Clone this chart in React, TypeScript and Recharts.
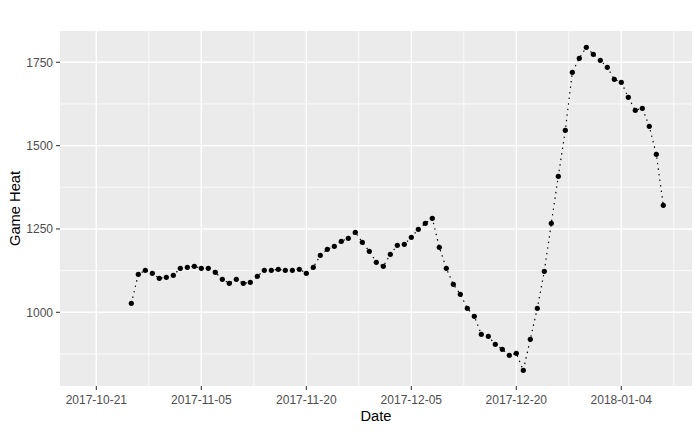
import React from 'react';
import { LineChart, Line, XAxis, YAxis, CartesianGrid } from 'recharts';

// Daily series starting 2017-10-26 (one value per day)
const startDate = '2017-10-26';
const gameHeat = [
  1027, 1114, 1126, 1117, 1102, 1105, 1111, 1132, 1135, 1138,
  1132, 1132, 1120, 1099, 1087, 1099, 1087, 1090, 1108, 1126,
  1126, 1129, 1126, 1126, 1129, 1117, 1135, 1171, 1189, 1198,
  1213, 1222, 1240, 1210, 1183, 1150, 1138, 1174, 1201, 1204,
  1225, 1249, 1267, 1282, 1195, 1132, 1084, 1054, 1012, 988,
  934, 928, 904, 889, 871, 877, 826, 919, 1012, 1123,
  1267, 1408, 1546, 1720, 1762, 1795, 1774, 1756, 1735, 1699,
  1690, 1645, 1606, 1612, 1558, 1474, 1321,
];

const xTickLabels = ['2017-10-21', '2017-11-05', '2017-11-20', '2017-12-05', '2017-12-20', '2018-01-04'];
const yTicks = [1000, 1250, 1500, 1750];
const yMinorTicks = [875, 1125, 1375, 1625];

const DAY = 86400000;
const ORIGIN = Date.UTC(2017, 9, 21);
const toDay = (s: string) => {
  const [y, m, d] = s.split('-').map(Number);
  return (Date.UTC(y, m - 1, d) - ORIGIN) / DAY;
};

const xTicks = xTickLabels.map(toDay);
const xMinorTicks = xTicks.map((t) => t + 7.5);
const startDay = toDay(startDate);
const data = gameHeat.map((v, i) => ({ day: startDay + i, value: v }));

const X_DOMAIN: [number, number] = [-5.19, 85.1];
const Y_DOMAIN: [number, number] = [778.9, 1843.9];

const FONT = '"Liberation Sans", Arial, sans-serif';

const tickStyle = { fill: '#4D4D4D', fontSize: 12, fontFamily: FONT };

const YTitle = (props: any) => {
  const vb = props.viewBox || {};
  const cy = (vb.y ?? 0) + (vb.height ?? 0) / 2;
  const x = (vb.x ?? 0) + 19.5;
  return (
    <text
      x={x}
      y={cy}
      transform={`rotate(-90, ${x}, ${cy})`}
      textAnchor="middle"
      fill="#000000"
      fontSize={14.7}
      fontFamily={FONT}
    >
      Game Heat
    </text>
  );
};

const XTitle = (props: any) => {
  const vb = props.viewBox || {};
  const cx = (vb.x ?? 0) + (vb.width ?? 0) / 2;
  const y = (vb.y ?? 0) + 35;
  return (
    <text x={cx} y={y} textAnchor="middle" fill="#000000" fontSize={14.7} fontFamily={FONT}>
      Date
    </text>
  );
};

export default function App() {
  return (
    <div style={{ position: 'absolute', left: 0, top: 0, width: 700, height: 432, background: '#FFFFFF' }}>
      <LineChart
        width={700}
        height={432}
        data={data}
        margin={{ top: 31, right: 8, left: 0, bottom: 0 }}
      >
        <CartesianGrid
          fill="#EBEBEB"
          stroke="#FFFFFF"
          strokeWidth={0.71}
          horizontalValues={yMinorTicks}
          verticalValues={xMinorTicks}
        />
        <CartesianGrid
          stroke="#FFFFFF"
          strokeWidth={1.42}
          horizontalValues={yTicks}
          verticalValues={xTicks}
        />
        <XAxis
          dataKey="day"
          type="number"
          domain={X_DOMAIN}
          allowDataOverflow
          ticks={xTicks}
          tickFormatter={(v: number) => xTickLabels[xTicks.indexOf(v)] ?? ''}
          axisLine={false}
          tickLine={{ stroke: '#333333', strokeWidth: 1.07 }}
          tickSize={4}
          tickMargin={5}
          tick={tickStyle}
          height={46}
          interval={0}
          label={{ content: XTitle }}
        />
        <YAxis
          type="number"
          domain={Y_DOMAIN}
          allowDataOverflow
          ticks={yTicks}
          axisLine={false}
          tickLine={{ stroke: '#333333', strokeWidth: 1.07 }}
          tickSize={4}
          tickMargin={3}
          tick={tickStyle}
          width={60}
          interval={0}
          label={{ content: YTitle }}
        />
        <Line
          type="linear"
          dataKey="value"
          stroke="#000000"
          strokeWidth={1.2}
          strokeDasharray="1.4 4.2"
          dot={{ r: 2.6, fill: '#000000', stroke: 'none', strokeWidth: 0 }}
          activeDot={false}
          isAnimationActive={false}
        />
      </LineChart>
    </div>
  );
}
